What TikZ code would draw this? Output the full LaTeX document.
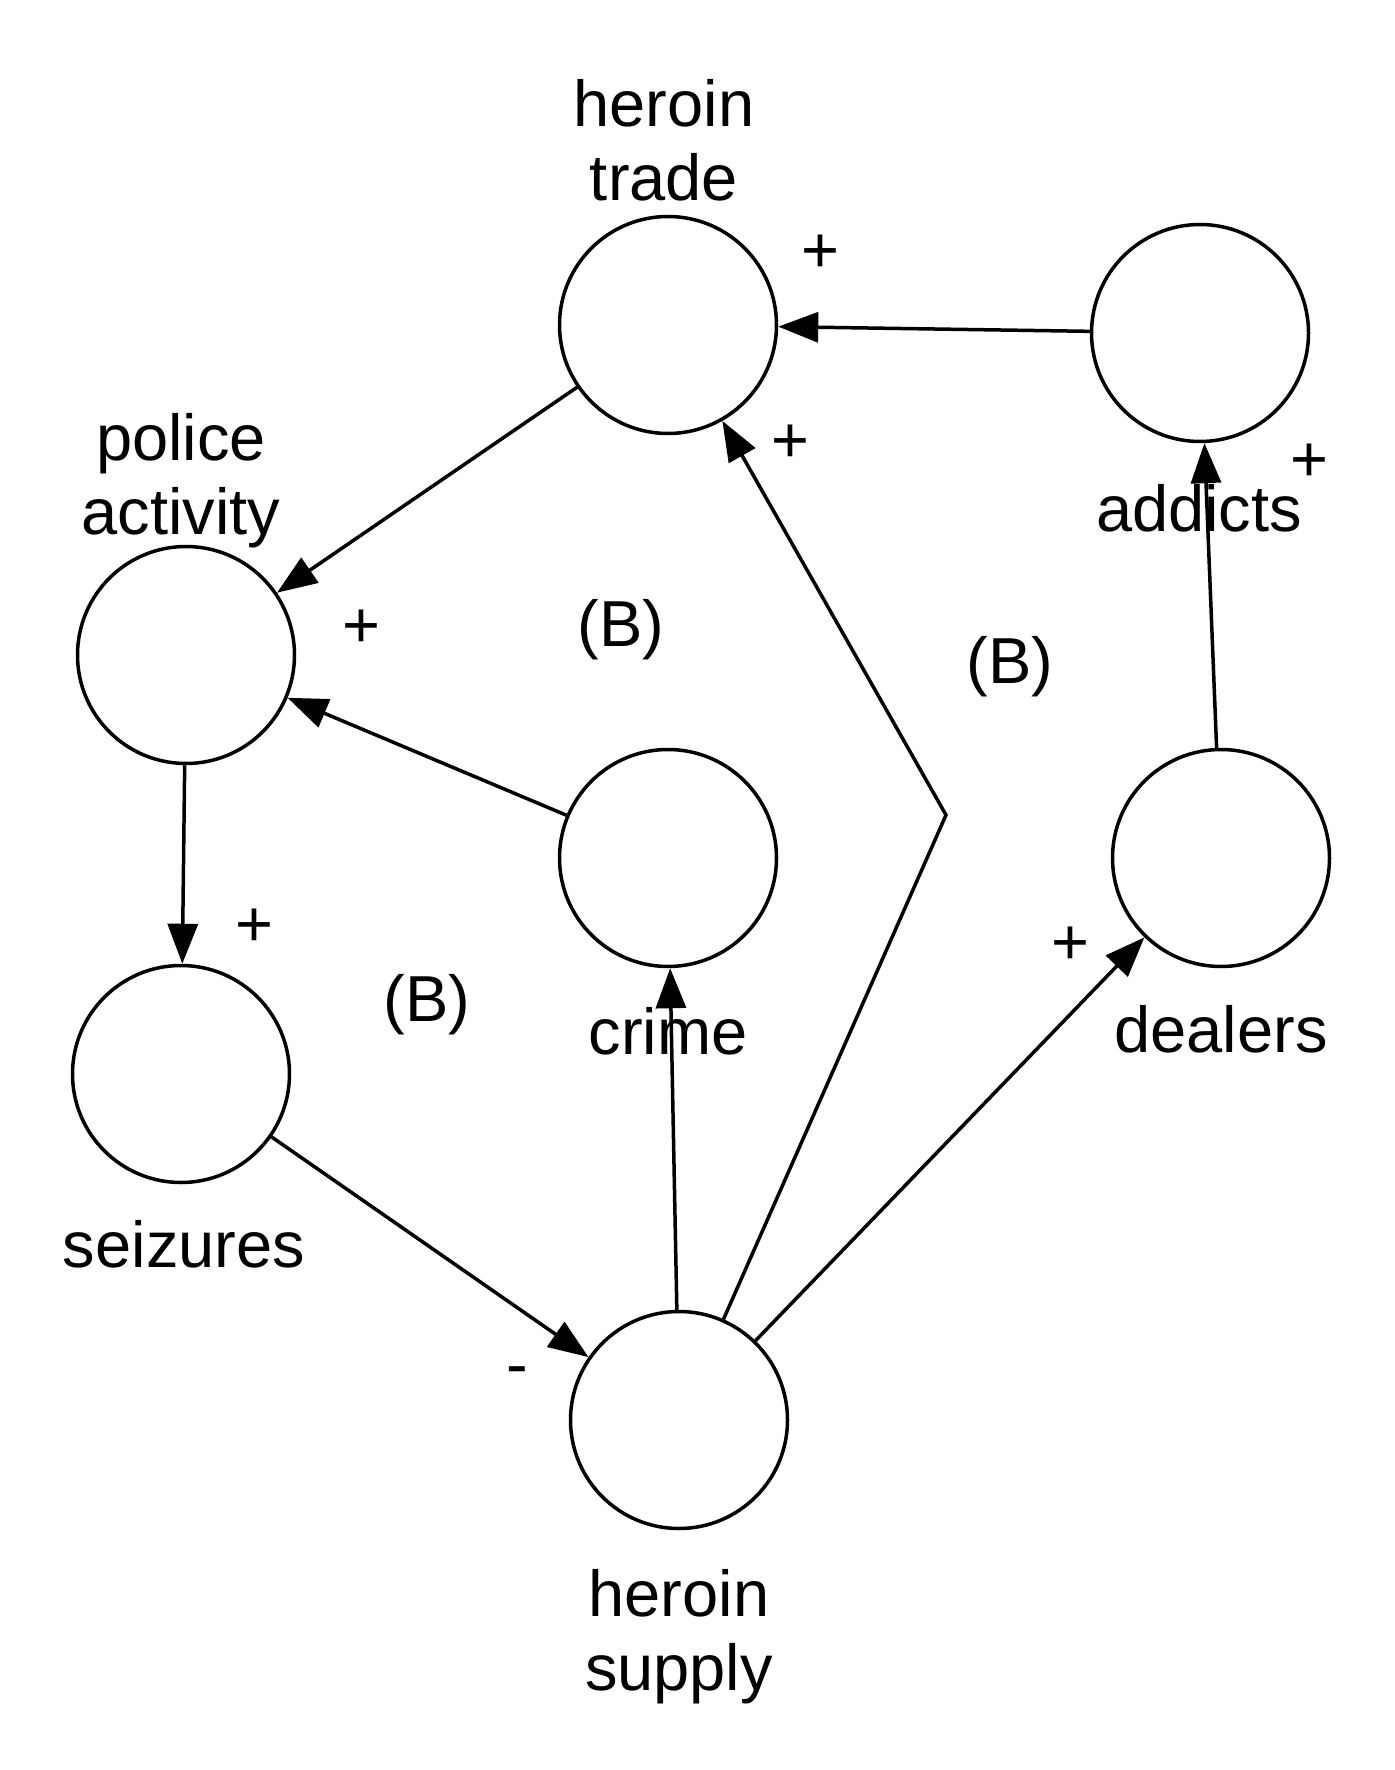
\documentclass[tikz,border=0pt]{standalone}
\usepackage{fontspec}
\setmainfont{Liberation Sans}
\usetikzlibrary{arrows.meta}
\begin{document}
\begin{tikzpicture}[x=0.5pt,y=-0.5pt,
  var/.style={circle, draw, line width=1.75pt, minimum size=108.5pt, inner sep=0pt},
  lbl/.style={anchor=base, align=center, inner sep=0pt, font=\fontsize{32.5}{37}\selectfont},
  sgn/.style={inner sep=0pt, font=\fontsize{32.5}{37}\selectfont},
  link/.style={-{Triangle[length=20pt,width=15pt]}, line width=1.75pt}]
\useasboundingbox (0,0) rectangle (1395,1770);
% variables
\node[var] (trade) at (668,325) {};
\node[var] (addicts) at (1200,333) {};
\node[var] (police) at (186,655) {};
\node[var] (crime) at (668,858) {};
\node[var] (dealers) at (1221,858) {};
\node[var] (seizures) at (181,1074) {};
\node[var] (supply) at (679,1420) {};
% names
\node[lbl] (tradetxt) at (664,201) {heroin\\trade};
\node[lbl] (policetxt) at (181,534) {police\\activity};
\node[lbl] (addictstxt) at (1199,531) {addicts};
\node[lbl] (crimetxt) at (668,1054) {crime};
\node[lbl] (dealerstxt) at (1221,1052) {dealers};
\node[lbl] (seizurestxt) at (184,1267) {seizures};
\node[lbl] (supplytxt) at (679,1690) {heroin\\supply};
% loops
\node[lbl] (loopa) at (621,646) {(B)};
\node[lbl] (loopb) at (1010,683) {(B)};
\node[lbl] (loopc) at (427,1021) {(B)};
% polarities
\node[sgn] (pa) at (820,254) {+};
\node[sgn] (pb) at (790,444) {+};
\node[sgn] (pc) at (1309,463) {+};
\node[sgn] (pd) at (361,629) {+};
\node[sgn] (pe) at (254,928) {+};
\node[sgn] (pf) at (1070,946) {+};
\node[sgn] (pg) at (517,1377) {-};
% links
\coordinate (bend) at (946,815);
\draw[link] (addicts) -- (trade);
\draw[link] (trade) -- (police);
\draw[link] (crime) -- (police);
\draw[link] (police) -- (seizures);
\draw[link] (seizures) -- (supply);
\draw[link] (supply) -- (crime);
\draw[link] (supply) -- (bend) -- (trade);
\draw[link] (supply) -- (dealers);
\draw[link] (dealers) -- (addicts);
\end{tikzpicture}
\end{document}
